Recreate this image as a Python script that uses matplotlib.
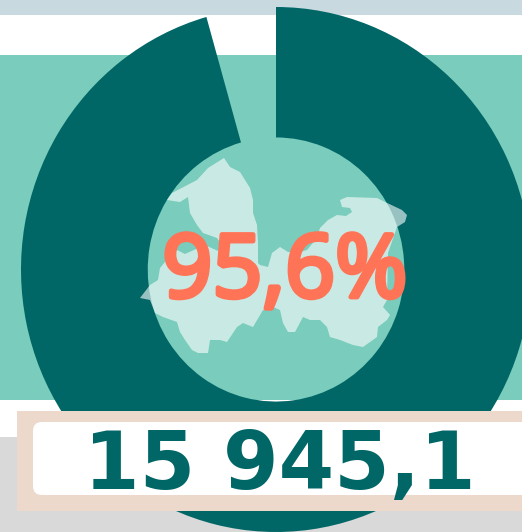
import matplotlib
matplotlib.use('Agg')
import matplotlib.pyplot as plt
import matplotlib.patheffects as pe
from matplotlib.patches import FancyBboxPatch, Polygon, Rectangle

W, H = 522, 532

share_values = [95.6, 4.4]
share_label = '95,6%'
total_label = '15 945,1'

# region outline (pixels)
region_x = [224, 230, 240, 245, 250, 253, 253, 257, 258, 258, 260, 268, 272, 280, 288, 297, 307, 317,
            320, 328, 337, 346, 352, 350, 342, 340, 347, 377, 385, 402, 407, 405, 397, 388, 387, 383,
            390, 387, 378, 377, 363, 353, 340, 330, 327, 320, 310, 303, 295, 288, 283, 280, 273, 263,
            253, 243, 237, 227, 220, 210, 208, 198, 192, 185, 180, 177, 163, 155, 150, 140, 150, 158,
            160, 165, 177, 185, 205, 218, 222, 217, 203, 197, 190, 188, 180, 167, 172, 197, 208]
region_y = [158, 167, 172, 180, 188, 200, 213, 225, 243, 263, 265, 267, 253, 247, 252, 253, 250, 238,
            228, 220, 215, 216, 212, 208, 207, 200, 197, 198, 202, 210, 215, 222, 227, 253, 300, 307,
            315, 320, 327, 337, 347, 345, 340, 337, 327, 320, 320, 317, 332, 332, 323, 310, 307, 310,
            327, 323, 327, 342, 340, 340, 353, 353, 350, 340, 332, 322, 317, 313, 300, 298, 285, 280,
            268, 262, 250, 254, 245, 251, 245, 238, 233, 225, 213, 197, 202, 200, 193, 180, 168]

DARK = '#006766'
TEAL = '#7accbc'
CORAL = '#ff7357'

fig = plt.figure(figsize=(W / 100, H / 100), dpi=100, facecolor='white')

bg = fig.add_axes([0, 0, 1, 1], zorder=0)
bg.set_xlim(0, W)
bg.set_ylim(H, 0)
bg.axis('off')
bg.add_patch(Rectangle((0, 0), W, 14.5, color='#c8dadf', lw=0))
bg.add_patch(Rectangle((0, 54.5), W, 345, color=TEAL, lw=0))
bg.add_patch(Rectangle((0, 437), W, 95, color='#d9d9d9', lw=0))

# ring, slightly taller than wide as in the picture
ring = fig.add_axes([21 / W, 1 - 532 / H, 510 / W, 525 / H], zorder=1)
ring.pie(share_values, colors=[DARK, 'none'], startangle=90, counterclock=False,
         radius=1, wedgeprops={'width': 0.497, 'linewidth': 0})
ring.set_aspect('auto')
ring.set_xlim(-1, 1)
ring.set_ylim(-1, 1)

top = fig.add_axes([0, 0, 1, 1], zorder=2)
top.set_xlim(0, W)
top.set_ylim(H, 0)
top.axis('off')

top.add_patch(Polygon(list(zip(region_x, region_y)), closed=True, facecolor='white', alpha=0.6, lw=0))

top.text(285, 297, share_label, color=CORAL, fontsize=63, fontfamily='Open Sans',
         ha='center', va='baseline',
         path_effects=[pe.withStroke(linewidth=3.5, foreground=CORAL)])

top.add_patch(Rectangle((17, 411), W - 17, 100, color='#ecd9cc', lw=0))
top.add_patch(FancyBboxPatch((41, 430), W, 57, boxstyle='round,pad=8,rounding_size=9',
                             facecolor='white', lw=0))
top.text(280, 488.5, total_label, color=DARK, fontsize=57.5, fontfamily='DejaVu Sans', fontweight='bold',
         ha='center', va='baseline')

fig.savefig('out.png', dpi=100)
